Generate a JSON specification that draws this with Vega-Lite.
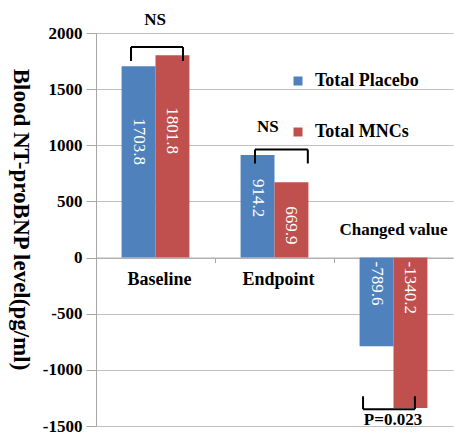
{
  "$schema": "https://vega.github.io/schema/vega-lite/v6.json",
  "width": 357,
  "height": 393,
  "autosize": {"type": "none"},
  "padding": {"left": 96, "top": 33, "right": 1, "bottom": 9},
  "background": "white",
  "config": {
    "view": {"stroke": null},
    "font": "Liberation Serif, Times New Roman, serif",
    "locale": {"number": {"decimal": ".", "thousands": "", "grouping": [3], "currency": ["$", ""], "minus": "-"}}
  },
  "datasets": {
    "bars": [
      {"category": "Baseline", "group": "Total Placebo", "value": 1703.8},
      {"category": "Baseline", "group": "Total MNCs", "value": 1801.8},
      {"category": "Endpoint", "group": "Total Placebo", "value": 914.2},
      {"category": "Endpoint", "group": "Total MNCs", "value": 669.9},
      {"category": "Changed value", "group": "Total Placebo", "value": -789.6},
      {"category": "Changed value", "group": "Total MNCs", "value": -1340.2}
    ],
    "brackets": [
      {"pair": "Baseline", "start": 0.294, "end": 0.731, "value": 1875, "tip": 1751},
      {"pair": "Endpoint", "start": 1.336, "end": 1.78, "value": 962, "tip": 838},
      {"pair": "Changed value", "start": 2.244, "end": 2.68, "value": -1350, "tip": -1235}
    ],
    "notes": [
      {"text": "NS", "pos": 0.496, "value": 2114},
      {"text": "NS", "pos": 1.445, "value": 1167},
      {"text": "P=0.023", "pos": 2.496, "value": -1450},
      {"text": "Changed value", "pos": 2.5, "value": 245}
    ]
  },
  "layer": [
    {
      "data": {"name": "bars"},
      "encoding": {
        "x": {
          "field": "category",
          "type": "nominal",
          "sort": ["Baseline", "Endpoint", "Changed value"],
          "scale": {"paddingInner": 0.43, "paddingOuter": 0.215},
          "axis": {
            "title": null,
            "orient": "bottom",
            "offset": -168.43,
            "domainColor": "#A6A6A6",
            "tickColor": "#A6A6A6",
            "tickSize": 5,
            "bandPosition": -0.377,
            "labelFont": "Liberation Serif, Times New Roman, serif",
            "labelFontWeight": "bold",
            "labelFontSize": 18,
            "labelColor": "black",
            "labelPadding": 8,
            "labelAngle": 0,
            "labelOffset": 4,
            "labelExpr": "datum.label == 'Changed value' ? '' : datum.label",
            "grid": false
          }
        },
        "xOffset": {
          "field": "group",
          "type": "nominal",
          "sort": ["Total Placebo", "Total MNCs"],
          "scale": {"paddingInner": 0, "paddingOuter": 0}
        },
        "y": {
          "field": "value",
          "type": "quantitative",
          "scale": {"domain": [-1500, 2000], "nice": false, "zero": false},
          "axis": {
            "title": "Blood NT-proBNP level(pg/ml)",
            "values": [-1500, -1000, -500, 0, 500, 1000, 1500, 2000],
            "format": "d",
            "labelFont": "Liberation Serif, Times New Roman, serif",
            "labelFontSize": 17,
            "labelFontWeight": "bold",
            "labelColor": "black",
            "tickSize": 10,
            "labelPadding": 4,
            "tickColor": "#A6A6A6",
            "domainColor": "#A6A6A6",
            "gridColor": "#BFBFBF",
            "titleFont": "Liberation Serif, Times New Roman, serif",
            "titleFontSize": 23,
            "titleFontWeight": "bold",
            "titleColor": "black",
            "titleAngle": 90,
            "titleX": -82.5,
            "titleY": 186,
            "titleAlign": "center",
            "titleBaseline": "alphabetic"
          }
        }
      },
      "layer": [
        {
          "mark": {"type": "bar"},
          "encoding": {
            "color": {
              "field": "group",
              "type": "nominal",
              "scale": {"domain": ["Total Placebo", "Total MNCs"], "range": ["#4F81BD", "#C0504D"]},
              "legend": {
                "orient": "none",
                "legendX": 193,
                "legendY": 39,
                "title": null,
                "direction": "vertical",
                "symbolType": "square",
                "symbolSize": 81,
                "symbolStrokeWidth": 0,
                "labelFont": "Liberation Serif, Times New Roman, serif",
                "labelFontWeight": "bold",
                "labelFontSize": 18,
                "labelColor": "black",
                "labelOffset": 8,
                "rowPadding": 33,
                "padding": 0
              }
            }
          }
        },
        {
          "transform": [{"filter": "datum.category == 'Baseline'"}],
          "mark": {"type": "text", "angle": 90, "align": "left", "baseline": "middle", "dx": 52, "color": "white", "font": "Liberation Serif, Times New Roman, serif", "fontSize": 17},
          "encoding": {"text": {"field": "value", "type": "quantitative", "format": ".1f"}}
        },
        {
          "transform": [{"filter": "datum.category == 'Endpoint'"}],
          "mark": {"type": "text", "angle": 90, "align": "left", "baseline": "middle", "dx": 24, "color": "white", "font": "Liberation Serif, Times New Roman, serif", "fontSize": 17},
          "encoding": {"text": {"field": "value", "type": "quantitative", "format": ".1f"}}
        },
        {
          "transform": [{"filter": "datum.value < 0"}],
          "mark": {"type": "text", "angle": 90, "align": "left", "baseline": "middle", "dx": 4, "color": "white", "font": "Liberation Serif, Times New Roman, serif", "fontSize": 17},
          "encoding": {
            "y": {"datum": 0, "type": "quantitative"},
            "text": {"field": "value", "type": "quantitative", "format": ".1f"}
          }
        }
      ]
    },
    {
      "layer": [
        {
          "data": {"name": "brackets"},
          "mark": {"type": "rule", "color": "black", "strokeWidth": 2},
          "encoding": {
            "x": {"field": "start", "type": "quantitative", "scale": {"domain": [0, 3], "nice": false, "zero": false}, "axis": null},
            "x2": {"field": "end"},
            "y": {"field": "value", "type": "quantitative"}
          }
        },
        {
          "data": {"name": "brackets"},
          "mark": {"type": "rule", "color": "black", "strokeWidth": 2},
          "encoding": {
            "x": {"field": "start", "type": "quantitative", "axis": null},
            "y": {"field": "value", "type": "quantitative"},
            "y2": {"field": "tip"}
          }
        },
        {
          "data": {"name": "brackets"},
          "mark": {"type": "rule", "color": "black", "strokeWidth": 2},
          "encoding": {
            "x": {"field": "end", "type": "quantitative", "axis": null},
            "y": {"field": "value", "type": "quantitative"},
            "y2": {"field": "tip"}
          }
        },
        {
          "data": {"name": "notes"},
          "mark": {"type": "text", "font": "Liberation Serif, Times New Roman, serif", "fontWeight": "bold", "fontSize": 17, "color": "black", "align": "center", "baseline": "middle"},
          "encoding": {
            "x": {"field": "pos", "type": "quantitative", "axis": null},
            "y": {"field": "value", "type": "quantitative"},
            "text": {"field": "text"}
          }
        }
      ]
    }
  ],
  "resolve": {"scale": {"x": "independent"}}
}
